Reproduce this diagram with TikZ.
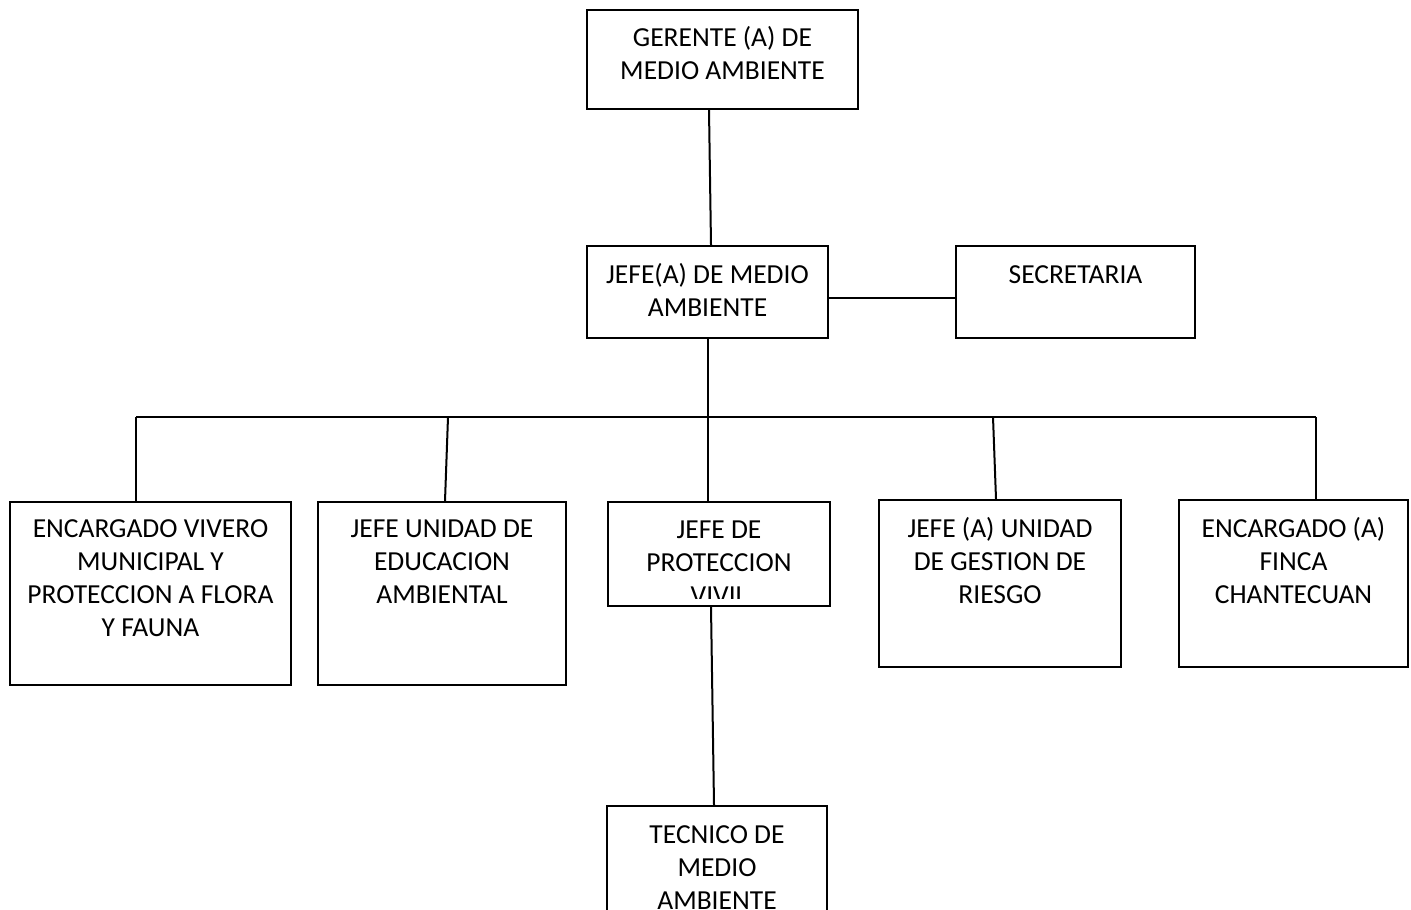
\documentclass[tikz,border=0pt]{standalone}
\usepackage{fontspec}
\setmainfont{Carlito}
\usetikzlibrary{positioning}
\tikzset{
    box/.style 2 args={
        rectangle,
        draw=black,
        line width=0.8pt,
        minimum width=#1*0.4pt,
        minimum height=#2*0.4pt,
        inner sep=0pt
    },
    boxtext/.style={
        align=center,
        anchor=base,
        inner sep=0pt,
        font=\fontsize{11}{13.2}\selectfont
    },
    link/.style={
        line width=0.8pt
    }
}

\begin{document}
\begin{tikzpicture}[x=0.4pt,y=-0.4pt]
\useasboundingbox (0,0) rectangle (1411,909);
\clip (0,0) rectangle (1411,909);

% boxes
\node[box={271}{99}] (gerente) at (722.5,59.5) {};
\node[box={241}{92}] (jefe) at (707.5,292) {};
\node[box={239}{92}] (secretaria) at (1075.5,292) {};
\node[box={281}{183}] (vivero) at (150.5,593.5) {};
\node[box={248}{183}] (educacion) at (442,593.5) {};
\node[box={222}{104}] (proteccion) at (719,554) {};
\node[box={242}{167}] (riesgo) at (1000,583.5) {};
\node[box={229}{167}] (finca) at (1293.5,583.5) {};
\node[box={220}{154}] (tecnico) at (717,883) {};

% texts (base = last line)
\node[boxtext] (gerente-t) at ([yshift=-28pt]gerente.north) {GERENTE (A) DE\\MEDIO AMBIENTE};
\node[boxtext] (jefe-t) at ([yshift=-28.4pt]jefe.north) {JEFE(A) DE MEDIO\\AMBIENTE};
\node[boxtext] (secretaria-t) at ([yshift=-15.2pt]secretaria.north) {SECRETARIA};
\node[boxtext] (vivero-t) at ([yshift=-54pt]vivero.north) {ENCARGADO VIVERO\\MUNICIPAL Y\\PROTECCION A FLORA\\Y FAUNA};
\node[boxtext] (educacion-t) at ([yshift=-40.8pt]educacion.north) {JEFE UNIDAD DE\\EDUCACION\\AMBIENTAL};
\begin{scope}
    % text overflows the box, cut at the inner margin
    \clip (proteccion.south west) ++(0,-9) rectangle (proteccion.north east);
    \node[boxtext] (proteccion-t) at ([yshift=-41.2pt]proteccion.north) {JEFE DE\\PROTECCION\\VIVIL};
\end{scope}
\node[boxtext] (riesgo-t) at ([yshift=-41.6pt]riesgo.north) {JEFE (A) UNIDAD\\DE GESTION DE\\RIESGO};
\node[boxtext] (finca-t) at ([yshift=-41.6pt]finca.north) {ENCARGADO (A)\\FINCA\\CHANTECUAN};
\node[boxtext] (tecnico-t) at ([yshift=-41.6pt]tecnico.north) {TECNICO DE\\MEDIO\\AMBIENTE};

% connectors
\coordinate (busl) at (136,417);
\coordinate (busr) at (1316,417);
\draw[link] ([xshift=0.6pt]gerente.south -| jefe.north) -- ([xshift=1.4pt]jefe.north);
\draw[link] ([yshift=-2.4pt]jefe.east) -- ([yshift=-2.4pt]jefe.east -| secretaria.west);
\draw[link] (busl) -- (busr);
\draw[link] (jefe.south) -- (jefe.south |- proteccion.north);
\draw[link] (busl) -- (busl |- vivero.north);
\draw[link] ([xshift=2.4pt]educacion.north |- busl) -- ([xshift=1.2pt]educacion.north);
\draw[link] ([xshift=-2.8pt]riesgo.north |- busl) -- ([xshift=-1.6pt]riesgo.north);
\draw[link] (busr) -- (busr |- finca.north);
\draw[link] ([xshift=-3.2pt]proteccion.south) -- ([xshift=-1.2pt]tecnico.north);
\end{tikzpicture}
\end{document}
